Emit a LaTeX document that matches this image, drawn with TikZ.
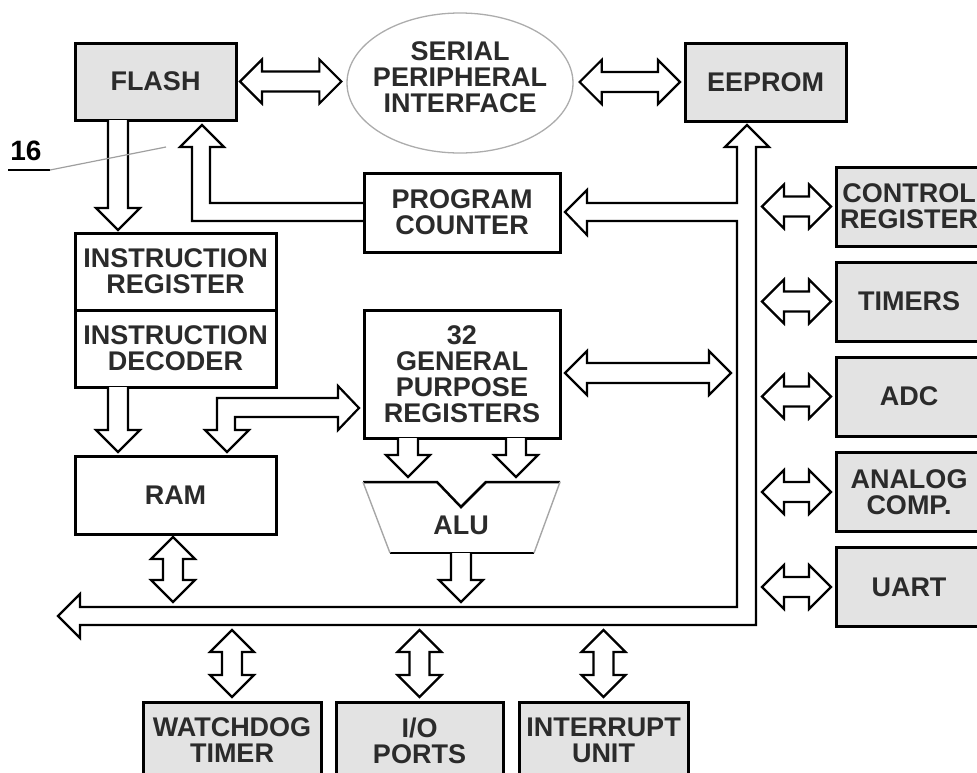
\documentclass[tikz,border=0pt]{standalone}
\usepackage{xcolor}
\usepackage{fontspec}
\setsansfont{Liberation Sans}
\usepackage{tikz}
\usetikzlibrary{positioning,calc,shapes.geometric}
\definecolor{boxfill}{HTML}{E3E3E3}
\definecolor{ink}{HTML}{2B2B2B}

\tikzset{
  txt/.style={font=\sffamily\bfseries\fontsize{27}{26}\selectfont, text=ink, align=center},
  box/.style={draw=black, line width=3pt, outer sep=0pt, inner sep=0pt, txt},
  unit/.style={box, fill=white},
  periph/.style={box, fill=boxfill},
  blockarrow/.style={draw=black, fill=white, line width=2.2pt, line join=miter},
}

% horizontal double block arrow, left tip / right tip
\newcommand{\hbiarrow}[2]{%
  \coordinate (l) at #1; \coordinate (r) at #2;
  \draw[blockarrow] (l) -- ++(22,-22) -- ++(0,12) -- ($(r)+(-22,-10)$) -- ++(0,-12) -- (r)
    -- ++(-22,22) -- ++(0,-12) -- ($(l)+(22,10)$) -- ++(0,12) -- cycle;}
% vertical double block arrow, top tip / bottom tip
\newcommand{\vbiarrow}[2]{%
  \coordinate (t) at #1; \coordinate (b) at #2;
  \draw[blockarrow] (t) -- ++(22,22) -- ++(-12,0) -- ($(b)+(10,-22)$) -- ++(12,0) -- (b)
    -- ++(-22,-22) -- ++(12,0) -- ($(t)+(-10,22)$) -- ++(-12,0) -- cycle;}
% single block arrow pointing down, shaft start / tip
\newcommand{\downblock}[2]{%
  \coordinate (t) at #1; \coordinate (b) at #2;
  \draw[blockarrow] ($(t)+(10,0)$) -- ($(b)+(10,-22)$) -- ++(12,0) -- (b)
    -- ++(-22,-22) -- ++(12,0) -- ($(t)+(-10,0)$);}

\begin{document}
\begin{tikzpicture}[x=1pt, y=-1pt]
  \useasboundingbox (0,0) rectangle (977,772);
  \clip (0,0) rectangle (977,772);

  \node[periph, minimum width=161, minimum height=77] (flash) at (155.5,81.5) {FLASH};
  \node[periph, minimum width=161, minimum height=78] (eeprom) at (765.5,82) {EEPROM};
  \node[ellipse, draw=gray!65, line width=1.3pt, minimum width=226, minimum height=140] (spi) at (460,83) {};
  \node[txt] (spitxt) at ($(spi.center)+(0,-6)$) {SERIAL\\PERIPHERAL\\INTERFACE};
  \node[unit, minimum width=196, minimum height=79] (pc) at (462,212.5) {PROGRAM\\COUNTER};
  \node[unit, minimum width=201, minimum height=77] (ir) at (175.5,271.5) {INSTRUCTION\\REGISTER};
  \node[unit, minimum width=201, minimum height=77, below=0pt of ir] (id) {INSTRUCTION\\DECODER};
  \node[unit, minimum width=196, minimum height=128] (gpr) at (462,374) {32\\GENERAL\\PURPOSE\\REGISTERS};
  \node[unit, minimum width=201, minimum height=78] (ram) at (175.5,495) {RAM};

  % ALU
  \draw[line width=2.5pt, fill=white] (363,482) -- (437,482) -- (461,507) -- (486,482) -- (560,482);
  \draw[line width=2.5pt] (390,553) -- (534,553);
  \draw[gray!70, line width=1.4pt] (363,482) -- (390,553) (560,482) -- (534,553);
  \node[txt] (alu) at (461,525) {ALU};
  \coordinate (alub) at (461,553);

  \foreach \name/\yy/\lbl in {ctrl/206.5/{CONTROL\\REGISTER}, timers/301.5/TIMERS, adc/396.5/ADC,
                              acomp/492/{ANALOG\\COMP.}, uart/587/UART} {
    \node[periph, minimum width=146, minimum height=79] (\name) at (909,\yy) {\lbl};
    \hbiarrow{($(\name.west)+(-74,0)$)}{($(\name.west)+(-5,0)$)}
  }

  \node[periph, minimum width=178, minimum height=77] (wdt) at (232,740.5) {WATCHDOG\\TIMER};
  \node[periph, minimum width=167, minimum height=77] (io) at (419.5,740.5) {I/O\\PORTS};
  \node[periph, minimum width=169, minimum height=77] (intr) at (603.5,740.5) {INTERRUPT\\UNIT};

  % data bus
  \draw[blockarrow] (747,125) -- (769,147) -- (756,147) -- (756,625) -- (80,625) -- (80,638)
    -- (58,616) -- (80,594) -- (80,607) -- (737,607) -- (737,221) -- (587,221) -- (587,235)
    -- (565,212) -- (587,190) -- (587,203) -- (737,203) -- (737,147) -- (725,147) -- cycle;

  % program counter to flash
  \draw[blockarrow, fill=none] (364,203) -- (210,203) -- (210,147) -- (224,147) -- (202,125)
    -- (180,147) -- (192,147) -- (192,221) -- (364,221);
  % registers to ram
  \draw[blockarrow] (227,452) -- (249,430) -- (235,430) -- (235,417) -- (338,417) -- (338,430)
    -- (359,408) -- (338,386) -- (338,398) -- (217,398) -- (217,430) -- (205,430) -- cycle;

  \hbiarrow{($(flash.east)+(4,0)$)}{($(flash.east -| spi.west)+(-5,0)$)}
  \hbiarrow{($(eeprom.west -| spi.east)+(6,0)$)}{($(eeprom.west)+(-5,0)$)}
  \hbiarrow{($(gpr.east)+(5,-1)$)}{($(gpr.east)+(171,-1)$)}
  \downblock{($(flash.south west)+(43,0)$)}{($(ir.north west)+(43,-3)$)}
  \downblock{($(id.south west)+(43,0)$)}{($(ram.north west)+(43,-4)$)}
  \downblock{($(gpr.south west)+(44,0)$)}{($(gpr.south west)+(44,39)$)}
  \downblock{($(gpr.south west)+(152,0)$)}{($(gpr.south west)+(152,39)$)}
  \downblock{(alub)}{($(alub)+(0,49)$)}
  \vbiarrow{($(ram.south west)+(98,3)$)}{($(ram.south west)+(98,68)$)}
  \foreach \name in {wdt,io,intr} {
    \vbiarrow{($(\name.north)+(0,-72)$)}{($(\name.north)+(0,-5)$)}
  }

  \node[font=\sffamily\bfseries\fontsize{28}{28}\selectfont] (bits) at (26,151) {16};
  \coordinate (tickl) at (8,170);
  \coordinate (tickr) at (50,170);
  \coordinate (tickend) at (166,147);
  \draw[line width=2.5pt] (tickl) -- (tickr);
  \draw[gray!75, line width=1.2pt] (tickr) -- (tickend);
\end{tikzpicture}
\end{document}
